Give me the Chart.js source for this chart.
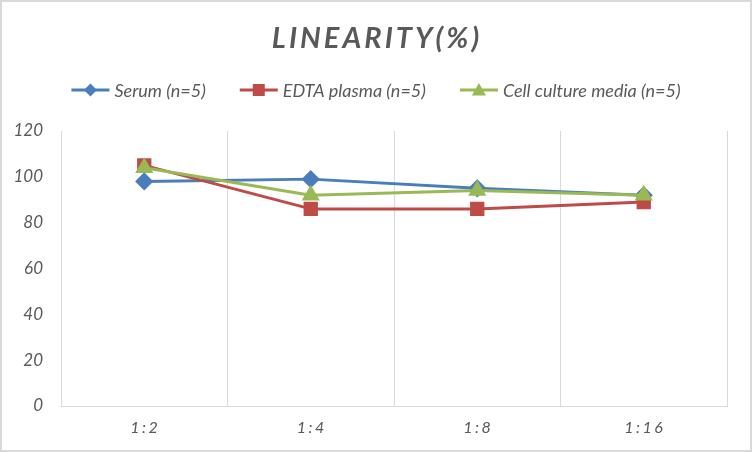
<!DOCTYPE html>
<html>
<head>
<meta charset="utf-8">
<script src="https://cdn.jsdelivr.net/npm/chart.js@4"></script>
<style>
  html, body { margin: 0; padding: 0; background: #fff; }
  #wrap { position: relative; width: 752px; height: 452px; box-sizing: border-box; border: 2px solid #D9D9D9; }
  canvas { display: block; }
</style>
</head>
<body>
<div id="wrap"><canvas id="c" width="748" height="448"></canvas></div>
<script>
const categories = ['1:2', '1:4', '1:8', '1:16'];
const serum = [98, 99, 95, 92];
const edtaPlasma = [105, 86, 86, 89];
const cellCulture = [104, 92, 94, 92];
const seriesNames = ['Serum (n=5)', 'EDTA plasma (n=5)', 'Cell culture media (n=5)'];
const yTicks = [0, 20, 40, 60, 80, 100, 120];
const titleText = 'LINEARITY(%)';

const FONT = 'Lato, "Open Sans", sans-serif';
const GREY = '#595959';

const headerPlugin = {
  id: 'header',
  afterDraw(chart) {
    const ctx = chart.ctx;
    const W = chart.width;
    ctx.save();
    // title
    ctx.fillStyle = GREY;
    ctx.font = 'italic bold 29px ' + FONT;
    ctx.letterSpacing = '3px';
    ctx.textAlign = 'center';
    ctx.textBaseline = 'middle';
    ctx.fillText(titleText, W / 2 + 1, 37);
    // x category labels (letter-spaced)
    const xs = chart.scales.x;
    ctx.font = 'italic 16px ' + FONT;
    ctx.letterSpacing = '2.5px';
    chart.data.labels.forEach((lab, i) => {
      ctx.fillText(lab, xs.getPixelForValue(i) + 1, xs.top + 22);
    });
    ctx.letterSpacing = '0px';
    // legend
    ctx.font = 'italic 18px ' + FONT;
    const lineLen = 38, gap = 5, itemGap = 34;
    const widths = chart.data.datasets.map(d => ctx.measureText(d.label).width);
    const total = widths.reduce((a, b) => a + b, 0) + chart.data.datasets.length * (lineLen + gap) + itemGap * (chart.data.datasets.length - 1);
    let x = (W - total) / 2;
    const y = 88;
    chart.data.datasets.forEach((d, i) => {
      ctx.strokeStyle = d.borderColor;
      ctx.lineWidth = 3;
      ctx.beginPath();
      ctx.moveTo(x, y);
      ctx.lineTo(x + lineLen, y);
      ctx.stroke();
      ctx.fillStyle = d.pointBackgroundColor;
      ctx.beginPath();
      const cx = x + lineLen / 2;
      if (d.pointStyle === 'rect') {
        ctx.fillRect(cx - 6, y - 6, 12, 12);
      } else if (d.pointStyle === 'rectRot') {
        const r = 6.5;
        ctx.moveTo(cx, y - r);
        ctx.lineTo(cx + r, y);
        ctx.lineTo(cx, y + r);
        ctx.lineTo(cx - r, y);
        ctx.closePath();
        ctx.fill();
      } else {
        const r = 7;
        ctx.moveTo(cx, y - r);
        ctx.lineTo(cx + r, y + r * 0.8);
        ctx.lineTo(cx - r, y + r * 0.8);
        ctx.closePath();
        ctx.fill();
      }
      ctx.fillStyle = GREY;
      ctx.textAlign = 'left';
      ctx.fillText(d.label, x + lineLen + gap, y + 1);
      x += lineLen + gap + widths[i] + itemGap;
    });
    ctx.restore();
  }
};

new Chart(document.getElementById('c'), {
  type: 'line',
  data: {
    labels: categories,
    datasets: [
      { label: seriesNames[0], data: serum, order: 3, borderColor: '#4A7EBB', backgroundColor: '#4A7EBB',
        pointBackgroundColor: '#4A7EBB', pointBorderColor: '#4A7EBB', pointStyle: 'rectRot', pointRadius: 7, borderWidth: 3, tension: 0 },
      { label: seriesNames[1], data: edtaPlasma, order: 2, borderColor: '#BE4B48', backgroundColor: '#BE4B48',
        pointBackgroundColor: '#BE4B48', pointBorderColor: '#BE4B48', pointStyle: 'rect', pointRadius: 8, borderWidth: 3, tension: 0 },
      { label: seriesNames[2], data: cellCulture, order: 1, borderColor: '#98B954', backgroundColor: '#98B954',
        pointBackgroundColor: '#98B954', pointBorderColor: '#98B954', pointStyle: 'triangle', pointRadius: 7.5, borderWidth: 3, tension: 0 }
    ]
  },
  options: {
    responsive: false,
    animation: false,
    devicePixelRatio: 1,
    layout: { padding: { top: 129, left: 0, right: 23, bottom: 0 } },
    plugins: { legend: { display: false }, title: { display: false }, tooltip: { enabled: false } },
    elements: { line: { borderJoinStyle: 'round' } },
    scales: {
      x: {
        offset: true,
        grid: { offset: true, color: '#D9D9D9', lineWidth: 1, drawTicks: false },
        border: { color: '#D9D9D9', width: 1 },
        ticks: { display: false },
        afterFit(axis) { axis.height = 44; }
      },
      y: {
        min: 0, max: 120,
        afterBuildTicks(axis) { axis.ticks = yTicks.map(v => ({ value: v })); },
        grid: { display: false },
        border: { display: false },
        ticks: { color: GREY, font: { family: FONT, size: 17, style: 'italic' }, padding: 10 },
        afterFit(axis) { axis.width = 59; }
      }
    }
  },
  plugins: [headerPlugin]
});
</script>
</body>
</html>
